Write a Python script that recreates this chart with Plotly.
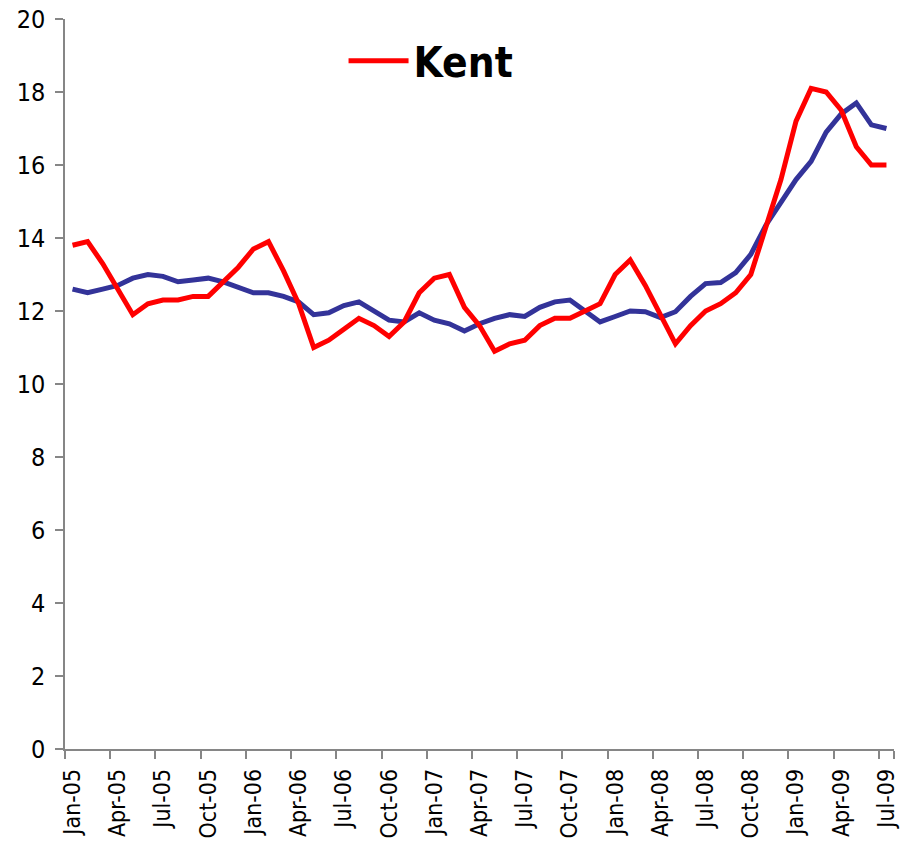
import plotly.graph_objects as go

month_names = ["Jan", "Feb", "Mar", "Apr", "May", "Jun", "Jul", "Aug", "Sep", "Oct", "Nov", "Dec"]
years = ["05", "06", "07", "08", "09"]
months = [f"{m}-{y}" for y in years for m in month_names][:55]  # Jan-05 .. Jul-09

kent = [13.8, 13.9, 13.3, 12.6, 11.9, 12.2, 12.3, 12.3, 12.4, 12.4,
        12.8, 13.2, 13.7, 13.9, 13.1, 12.2, 11.0, 11.2, 11.5, 11.8,
        11.6, 11.3, 11.7, 12.5, 12.9, 13.0, 12.1, 11.6, 10.9, 11.1,
        11.2, 11.6, 11.8, 11.8, 12.0, 12.2, 13.0, 13.4, 12.7, 11.9,
        11.1, 11.6, 12.0, 12.2, 12.5, 13.0, 14.3, 15.6, 17.2, 18.1,
        18.0, 17.5, 16.5, 16.0, 16.0]

comparison = [12.6, 12.5, 12.6, 12.7, 12.9, 13.0, 12.95, 12.8, 12.85, 12.9,
              12.8, 12.65, 12.5, 12.5, 12.4, 12.25, 11.9, 11.95, 12.15, 12.25,
              12.0, 11.75, 11.7, 11.95, 11.75, 11.65, 11.45, 11.65, 11.8, 11.9,
              11.85, 12.1, 12.25, 12.3, 12.0, 11.7, 11.85, 12.0, 11.98, 11.82,
              11.98, 12.4, 12.75, 12.78, 13.05, 13.55, 14.35, 15.0, 15.6, 16.1,
              16.9, 17.4, 17.7, 17.1, 17.0]

tick_labels = months[::3]
y_ticks = list(range(0, 21, 2))

FONT = "DejaVu Sans Condensed, Liberation Sans, DejaVu Sans, sans-serif"

fig = go.Figure()
fig.add_trace(go.Scatter(x=months, y=comparison, mode="lines", name="Comparison",
                         line=dict(color="#333399", width=5), showlegend=False))
fig.add_trace(go.Scatter(x=months, y=kent, mode="lines", name="Kent",
                         line=dict(color="#FF0000", width=5)))

fig.update_layout(
    width=900, height=857,
    margin=dict(l=65, r=6, t=19, b=108, autoexpand=False),
    paper_bgcolor="white", plot_bgcolor="white",
    font=dict(family=FONT, size=24, color="black"),
    legend=dict(x=0.336, y=0.9425, xanchor="left", yanchor="middle",
                font=dict(family=FONT, size=42, color="black", weight="bold"),
                bgcolor="rgba(0,0,0,0)", itemwidth=60),
)
fig.update_xaxes(
    type="category", categoryorder="array", categoryarray=months,
    range=[-0.5, 54.5], automargin=False,
    tickmode="array", tickvals=tick_labels, ticktext=tick_labels,
    tickson="boundaries", tickangle=-90,
    ticks="outside", ticklen=8, tickcolor="#868686", tickwidth=1.5,
    showline=True, linecolor="#868686", linewidth=1.5,
    showgrid=False, zeroline=False,
    tickfont=dict(family=FONT, size=23, color="black"),
    ticklabelstandoff=9,
)
fig.update_yaxes(
    range=[0, 20], tickmode="array", tickvals=y_ticks, automargin=False,
    ticks="outside", ticklen=8, tickcolor="#868686", tickwidth=1.5,
    showline=True, linecolor="#868686", linewidth=1.5,
    showgrid=False, zeroline=False,
    tickfont=dict(family=FONT, size=25, color="black"),
    ticklabelstandoff=5,
)

fig.write_html("out.html", config={"displayModeBar": False},
               post_script="document.body.style.margin='0px';document.body.style.overflow='hidden';")
